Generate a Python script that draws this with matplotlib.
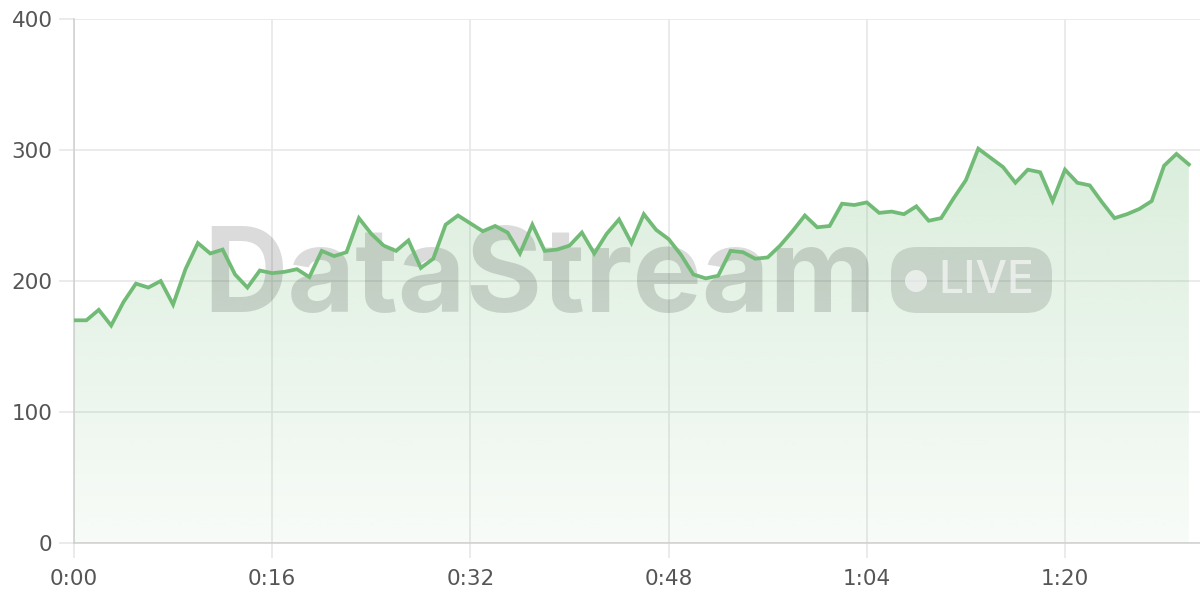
import matplotlib
matplotlib.use("Agg")
import matplotlib.pyplot as plt
import numpy as np
from matplotlib.patches import FancyBboxPatch, Circle
from matplotlib.colors import to_rgb
from matplotlib.transforms import IdentityTransform

# ---- data ----
seconds = list(range(91))
values = [170, 170, 178, 166, 184, 198, 195, 200, 182, 209,
          229, 221, 224, 205, 195, 208, 206, 207, 209, 203,
          223, 219, 222, 248, 236, 227, 223, 231, 210, 217,
          243, 250, 244, 238, 242, 237, 221, 243, 223, 224,
          227, 237, 221, 236, 247, 229, 251, 239, 232, 220,
          205, 202, 204, 223, 222, 217, 218, 227, 238, 250,
          241, 242, 259, 258, 260, 252, 253, 251, 257, 246,
          248, 263, 277, 301, 294, 287, 275, 285, 283, 261,
          285, 275, 273, 260, 248, 251, 255, 261, 288, 297,
          289]
x_ticks = [0, 16, 32, 48, 64, 80]
x_labels = ["0:00", "0:16", "0:32", "0:48", "1:04", "1:20"]
y_ticks = [0, 100, 200, 300, 400]

line_color = "#72bb77"
grid_color = "#e6e6e6"
spine_color = "#cfcfcf"
label_color = "#555555"

plt.rcParams["font.family"] = ["DejaVu Sans"]

W, H = 1200, 600
fig = plt.figure(figsize=(12, 6), dpi=100)
ax = fig.add_axes([74 / W, 1 - 543 / H, 1 - 74 / W, (543 - 19) / H])

# grid
ax.set_xticks(x_ticks)
ax.set_xticklabels(x_labels)
ax.set_yticks(y_ticks)
ax.grid(True, color=grid_color, linewidth=1.1, zorder=0)
ax.set_axisbelow(True)
for s in ["top", "right"]:
    ax.spines[s].set_visible(False)
for s in ["left", "bottom"]:
    ax.spines[s].set_color(spine_color)
    ax.spines[s].set_linewidth(1.1)
ax.tick_params(axis="both", colors=grid_color, width=1.1, length=11,
               labelcolor=label_color, labelsize=15.5)
ax.tick_params(axis="x", pad=8)
ax.tick_params(axis="y", pad=4.5)

# gradient fill
x = np.array(seconds, dtype=float)
y = np.array(values, dtype=float)
poly = ax.fill_between(x, y, 0, color="none", linewidth=0)
base = np.array(to_rgb(line_color))
n = 256
img = np.zeros((n, 1, 4))
img[:, 0, :3] = base
img[:, 0, 3] = np.linspace(0.05, 0.26, n)
ymax = max(values)
im = ax.imshow(img, extent=[x[0], x[-1], 0, ymax], origin="lower",
               aspect="auto", zorder=1, interpolation="bilinear")
im.set_clip_path(poly.get_paths()[0], transform=ax.transData)
ax.set_xlim(0, 90.9)
ax.set_ylim(0, 400)

# watermark (pixel coordinates, drawn inside the axes, under the line)
px = IdentityTransform()
ax.text(540, H - 281, "DataStream", fontsize=84, fontweight="bold",
        family=["Inter", "DejaVu Sans"], color=(0, 0, 0, 0.14),
        ha="center", va="center", transform=px, zorder=2, clip_on=False)
badge = FancyBboxPatch((891, H - 313), 161, 66,
                       boxstyle="round,pad=0,rounding_size=26",
                       transform=px, facecolor=(0, 0, 0, 0.12),
                       edgecolor="none", zorder=2, clip_on=False)
ax.add_artist(badge)
ax.text(986, H - 281, "LIVE", fontsize=32, family=["Inter", "DejaVu Sans"],
        fontweight="medium", color=(1, 1, 1, 0.6), ha="center", va="center",
        transform=px, zorder=3, clip_on=False)
dot = Circle((916, H - 281), 11, transform=px, facecolor=(1, 1, 1, 0.6),
             edgecolor="none", zorder=3, clip_on=False)
ax.add_artist(dot)

# line
ax.plot(x, y, color=line_color, linewidth=2.7, zorder=4, solid_joinstyle="miter")

fig.savefig("out.png", dpi=100)
